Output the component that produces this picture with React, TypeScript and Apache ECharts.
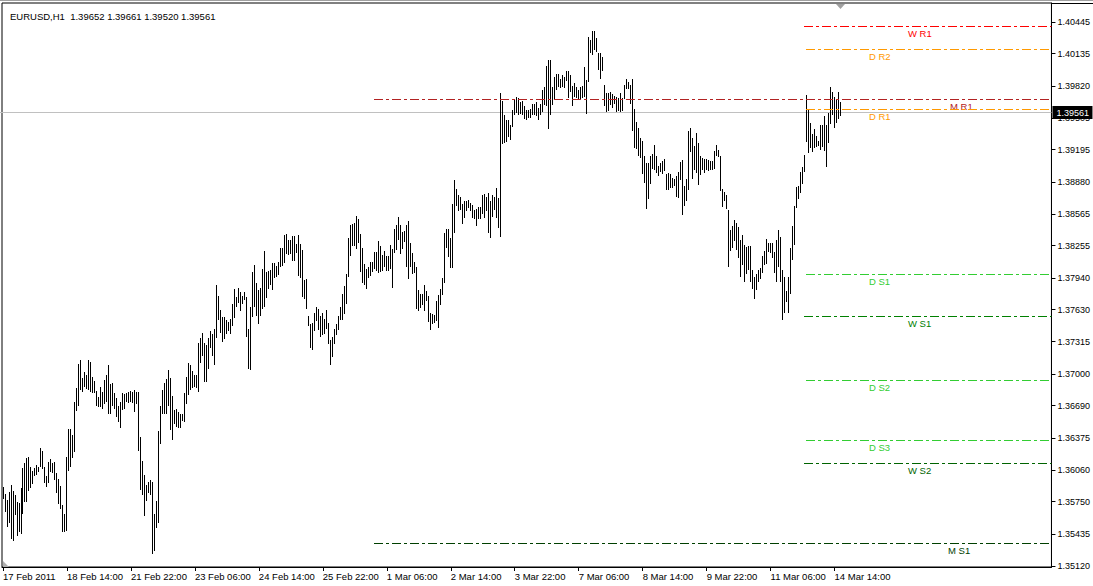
import React, { useEffect, useRef } from "react";
import * as echarts from "echarts";

const symbolTitle = "EURUSD,H1";
const lastOHLC = [1.39652, 1.39661, 1.3952, 1.39561];

const highs = [
  1.3589, 1.3582, 1.3577, 1.3584, 1.3591, 1.3585, 1.3581, 1.3575, 1.3574, 1.3588,
  1.3608, 1.3613, 1.3618, 1.3619, 1.3609, 1.3605, 1.3608, 1.3611, 1.3609, 1.3627,
  1.3625, 1.3609, 1.36, 1.3614, 1.3617, 1.3613, 1.3614, 1.3603, 1.3597, 1.359,
  1.3572, 1.3563, 1.3619, 1.3646, 1.3646, 1.364, 1.3673, 1.3686, 1.371, 1.3714,
  1.3696, 1.3702, 1.3699, 1.3714, 1.3712, 1.3697, 1.3693, 1.3683, 1.3677, 1.3687,
  1.3682, 1.3694, 1.3699, 1.3709, 1.369, 1.3691, 1.3681, 1.3676, 1.3669, 1.3673,
  1.3681, 1.368, 1.3681, 1.3682, 1.3683, 1.3682, 1.3684, 1.3682, 1.3682, 1.3638,
  1.3615, 1.3601, 1.3591, 1.3594, 1.3596, 1.3594, 1.3563, 1.3576, 1.3644, 1.3669,
  1.3684, 1.3691, 1.3695, 1.3704, 1.3696, 1.3678, 1.3665, 1.3666, 1.3663, 1.3661,
  1.3661, 1.3681, 1.3697, 1.3711, 1.3709, 1.3703, 1.3699, 1.3699, 1.373, 1.3735,
  1.374, 1.373, 1.3728, 1.3735, 1.3742, 1.3739, 1.3744, 1.3787, 1.3776, 1.3763,
  1.3756, 1.3756, 1.3753, 1.3751, 1.3754, 1.3768, 1.3783, 1.3775, 1.3784, 1.378,
  1.3776, 1.378, 1.3775, 1.3744, 1.3766, 1.38, 1.3807, 1.3789, 1.3782, 1.3784,
  1.3803, 1.382, 1.38, 1.3801, 1.3802, 1.3809, 1.3809, 1.3806, 1.381, 1.3823,
  1.3823, 1.3836, 1.3837, 1.3831, 1.3831, 1.3835, 1.3835, 1.3827, 1.3836, 1.3827,
  1.3821, 1.3792, 1.3793, 1.3757, 1.3749, 1.375, 1.376, 1.3766, 1.3764, 1.3757,
  1.376, 1.3754, 1.3763, 1.375, 1.3733, 1.3736, 1.3744, 1.3749, 1.3757, 1.3766,
  1.3778, 1.3786, 1.3798, 1.3833, 1.3846, 1.3847, 1.3848, 1.3855, 1.3852, 1.3837,
  1.3823, 1.3808, 1.3803, 1.3805, 1.381, 1.381, 1.3819, 1.3819, 1.383, 1.3825,
  1.3816, 1.382, 1.3815, 1.3815, 1.3826, 1.3822, 1.3842, 1.3846, 1.3854, 1.3846,
  1.3839, 1.384, 1.3846, 1.385, 1.3828, 1.3818, 1.381, 1.3805, 1.3782, 1.3778,
  1.3778, 1.3787, 1.3781, 1.3776, 1.376, 1.3759, 1.3758, 1.3771, 1.3777, 1.3783,
  1.3794, 1.3838, 1.3842, 1.3842, 1.3833, 1.3866, 1.389, 1.3881, 1.3875, 1.3873,
  1.3866, 1.3869, 1.3869, 1.387, 1.3867, 1.3865, 1.386, 1.3861, 1.3863, 1.3863,
  1.3875, 1.3876, 1.3873, 1.3877, 1.3869, 1.3875, 1.3873, 1.3882, 1.3872, 1.3975,
  1.3967, 1.3953, 1.3949, 1.3949, 1.3944, 1.3958, 1.3969, 1.3971, 1.397, 1.3966,
  1.3967, 1.3962, 1.3958, 1.3958, 1.3959, 1.3964, 1.3964, 1.3966, 1.396, 1.3964,
  1.3978, 1.3981, 1.4001, 1.4007, 1.4007, 1.3981, 1.3991, 1.3994, 1.3994, 1.3989,
  1.3993, 1.3991, 1.3997, 1.3997, 1.3993, 1.3982, 1.3985, 1.3981, 1.3978, 1.3981,
  1.3982, 1.4, 1.3988, 1.403, 1.4027, 1.4036, 1.4036, 1.4029, 1.4014, 1.4014,
  1.401, 1.3983, 1.3975, 1.3975, 1.3976, 1.3974, 1.3972, 1.3971, 1.397, 1.3975,
  1.397, 1.3983, 1.3989, 1.3986, 1.3983, 1.3989, 1.3959, 1.3947, 1.3941, 1.3931,
  1.3928, 1.3913, 1.3906, 1.3906, 1.3913, 1.3915, 1.3924, 1.3913, 1.3904, 1.3906,
  1.3908, 1.391, 1.3896, 1.3897, 1.3896, 1.3892, 1.3891, 1.3894, 1.3898, 1.3907,
  1.3909, 1.3884, 1.3891, 1.3938, 1.3941, 1.3931, 1.3923, 1.3936, 1.3926, 1.3913,
  1.3911, 1.391, 1.391, 1.3909, 1.3908, 1.3908, 1.3918, 1.3924, 1.3919, 1.3913,
  1.3881, 1.3878, 1.3875, 1.386, 1.3841, 1.3845, 1.3851, 1.3848, 1.3844, 1.3831,
  1.3836, 1.3826, 1.3824, 1.3825, 1.3825, 1.3802, 1.3795, 1.3798, 1.3802, 1.3804,
  1.3815, 1.382, 1.3832, 1.3828, 1.3828, 1.3828, 1.3819, 1.3831, 1.3841, 1.3834,
  1.3802, 1.3795, 1.3781, 1.3795, 1.3823, 1.3845, 1.3864, 1.3883, 1.3884, 1.3898,
  1.3903, 1.3914, 1.3973, 1.3959, 1.3946, 1.3935, 1.394, 1.3933, 1.3928, 1.3944,
  1.3944, 1.3952, 1.3944, 1.3955, 1.3981, 1.3976, 1.3971, 1.3969, 1.3976, 1.39661,
];

const lows = [
  1.3578, 1.3565, 1.355, 1.3554, 1.3538, 1.3536, 1.3562, 1.3541, 1.3545, 1.3543,
  1.3563, 1.3575, 1.3575, 1.3585, 1.3588, 1.3592, 1.36, 1.3601, 1.3604, 1.3609,
  1.3607, 1.3593, 1.3589, 1.3593, 1.3604, 1.3603, 1.3596, 1.3583, 1.3573, 1.3568,
  1.3545, 1.3545, 1.3546, 1.3605, 1.3609, 1.3618, 1.3624, 1.3664, 1.3669, 1.3684,
  1.3682, 1.3687, 1.3685, 1.3684, 1.3682, 1.3681, 1.3681, 1.3669, 1.3668, 1.3668,
  1.3666, 1.3671, 1.3673, 1.3661, 1.3661, 1.3669, 1.3666, 1.3658, 1.3653, 1.3647,
  1.3665, 1.3666, 1.3673, 1.3672, 1.3673, 1.3672, 1.3663, 1.3671, 1.3625, 1.3586,
  1.3581, 1.3561, 1.3576, 1.3583, 1.3581, 1.3524, 1.3527, 1.3549, 1.3554, 1.3631,
  1.3661, 1.3661, 1.3661, 1.3669, 1.3645, 1.3635, 1.3651, 1.3648, 1.3647, 1.3647,
  1.3654, 1.3653, 1.3671, 1.3679, 1.3684, 1.3686, 1.3687, 1.3686, 1.3682, 1.3711,
  1.3718, 1.3692, 1.3692, 1.3705, 1.3725, 1.3718, 1.3709, 1.3735, 1.3753, 1.374,
  1.3731, 1.3734, 1.3739, 1.3742, 1.3739, 1.3747, 1.3755, 1.3766, 1.3769, 1.3762,
  1.3768, 1.3772, 1.3736, 1.3705, 1.3704, 1.3756, 1.3766, 1.3757, 1.3749, 1.3757,
  1.3764, 1.3766, 1.3774, 1.3783, 1.3787, 1.3782, 1.3794, 1.3795, 1.3797, 1.3805,
  1.3806, 1.3809, 1.3817, 1.3816, 1.3817, 1.3811, 1.3811, 1.3818, 1.3796, 1.3794,
  1.3775, 1.3773, 1.3764, 1.3747, 1.3725, 1.3723, 1.3742, 1.3752, 1.3743, 1.3736,
  1.3738, 1.3739, 1.3744, 1.3729, 1.3709, 1.3717, 1.3729, 1.3738, 1.3743, 1.3753,
  1.3753, 1.3759, 1.3768, 1.3795, 1.3815, 1.3825, 1.3825, 1.3822, 1.3828, 1.38,
  1.3789, 1.3787, 1.3783, 1.3794, 1.3796, 1.38, 1.3803, 1.3801, 1.3799, 1.38,
  1.3801, 1.3805, 1.3801, 1.3801, 1.3803, 1.3784, 1.3818, 1.3821, 1.3831, 1.3817,
  1.3822, 1.3829, 1.3805, 1.3793, 1.3805, 1.3798, 1.3799, 1.3764, 1.3762, 1.3765,
  1.3767, 1.3762, 1.3771, 1.3751, 1.3743, 1.3749, 1.375, 1.3752, 1.3745, 1.3767,
  1.3777, 1.3789, 1.3823, 1.3814, 1.3804, 1.3804, 1.3838, 1.3864, 1.3859, 1.386,
  1.3847, 1.3853, 1.3859, 1.3862, 1.3859, 1.3853, 1.3852, 1.3845, 1.3852, 1.3852,
  1.3857, 1.3853, 1.3859, 1.3838, 1.3833, 1.3854, 1.386, 1.3853, 1.3843, 1.3834,
  1.3925, 1.3926, 1.3927, 1.3932, 1.3929, 1.3942, 1.3953, 1.3955, 1.3953, 1.3954,
  1.3953, 1.395, 1.3949, 1.3951, 1.3951, 1.3953, 1.3953, 1.3952, 1.3949, 1.3953,
  1.3956, 1.3963, 1.3962, 1.394, 1.3953, 1.3963, 1.3968, 1.3978, 1.3981, 1.398,
  1.3981, 1.398, 1.3987, 1.397, 1.3976, 1.3962, 1.3971, 1.397, 1.3968, 1.3968,
  1.397, 1.3971, 1.3954, 1.3986, 1.4014, 1.4012, 1.4017, 1.4015, 1.3998, 1.3989,
  1.3997, 1.3962, 1.3956, 1.3957, 1.3963, 1.396, 1.3964, 1.3956, 1.3957, 1.3956,
  1.3957, 1.3969, 1.3979, 1.3979, 1.3964, 1.3938, 1.3921, 1.392, 1.3913, 1.3911,
  1.3896, 1.3887, 1.3861, 1.3871, 1.3886, 1.3901, 1.39, 1.3897, 1.3894, 1.3898,
  1.3896, 1.3899, 1.388, 1.388, 1.3882, 1.3882, 1.3884, 1.3873, 1.3872, 1.389,
  1.3856, 1.3864, 1.3869, 1.388, 1.3917, 1.3891, 1.39, 1.3897, 1.3885, 1.3895,
  1.39, 1.3897, 1.39, 1.3899, 1.39, 1.39, 1.3901, 1.3913, 1.3912, 1.3879,
  1.3863, 1.3869, 1.3861, 1.3805, 1.382, 1.3823, 1.383, 1.3821, 1.3813, 1.3795,
  1.3807, 1.379, 1.3798, 1.3802, 1.379, 1.3783, 1.3773, 1.3782, 1.379, 1.3793,
  1.3799, 1.3807, 1.3808, 1.3819, 1.3818, 1.3813, 1.3799, 1.379, 1.3805, 1.379,
  1.3753, 1.376, 1.377, 1.376, 1.3778, 1.3812, 1.3826, 1.3862, 1.3871, 1.3877,
  1.3886, 1.3898, 1.3927, 1.3916, 1.3921, 1.3917, 1.3921, 1.3922, 1.3923, 1.3919,
  1.3922, 1.3918, 1.3903, 1.3926, 1.3945, 1.3953, 1.3941, 1.3946, 1.395, 1.3952,
];

const yTickLabels = [
  1.40445, 1.40135, 1.3982, 1.39505, 1.39195, 1.3888, 1.38565, 1.38255, 1.3794,
  1.3763, 1.37315, 1.37, 1.3669, 1.36375, 1.3606, 1.3575, 1.35435, 1.3512,
];

const xTickBars = [0, 32, 64, 96, 128, 160, 192, 224, 256, 288, 320, 352, 384, 416];
const xTickLabels = [
  "17 Feb 2011", "18 Feb 14:00", "21 Feb 22:00", "23 Feb 06:00", "24 Feb 14:00",
  "25 Feb 22:00", "1 Mar 06:00", "2 Mar 14:00", "3 Mar 22:00", "7 Mar 06:00",
  "8 Mar 14:00", "9 Mar 22:00", "11 Mar 06:00", "14 Mar 14:00",
];

// pivot levels
const pivotNames = ["W R1", "D R2", "M R1", "D R1", "D S1", "W S1", "D S2", "D S3", "W S2", "M S1"];
const pivotValues = [1.40403, 1.40178, 1.39688, 1.3959, 1.37975, 1.37564, 1.36938, 1.3635, 1.36125, 1.35342];
const pivotPeriod = ["W", "D", "M", "D", "D", "W", "D", "D", "W", "M"];
// bar index where each period starts (monthly: 1 Mar 00:00, weekly/daily: 14 Mar 00:00)
const periodStartBar = { M: 186, W: 401, D: 402 } as Record<string, number>;

// styles
const FONT = '"Liberation Sans", Arial, sans-serif';
const pivotColors = ["#FF0000", "#FF9900", "#B22222", "#FF9900", "#32CD32", "#008000", "#32CD32", "#32CD32", "#006400", "#004000"];
const labelBarPos = [452.5, 433, 473.5, 433, 433, 452.5, 433, 433, 452.5, 472.5];
const SLOTS = 525;

export default function App() {
  const ref = useRef<HTMLDivElement>(null);
  useEffect(() => {
    if (!ref.current) return;
    const chart = echarts.init(ref.current, null, { renderer: "svg" });
    const barData = highs.map((h, i) => [i, h, lows[i]]);
    const pivotData = pivotValues.map((v, k) => [periodStartBar[pivotPeriod[k]], v, labelBarPos[k]]);
    const yMax = 1.40631;
    const yMin = 1.3511;
    chart.setOption({
      animation: false,
      backgroundColor: "#FFFFFF",
      title: {
        text: `${symbolTitle}  ${lastOHLC.map((v) => v.toFixed(5)).join(" ")}`,
        left: 5,
        top: 6,
        textStyle: { fontSize: 9.5, fontWeight: "normal", color: "#000", fontFamily: FONT },
      },
      grid: {
        left: 2,
        top: 3,
        width: 1050,
        height: 564,
        show: true,
        borderColor: "#000",
        borderWidth: 1,
        backgroundColor: "transparent",
      },
      xAxis: {
        type: "value",
        min: -0.5,
        max: SLOTS - 0.5,
        splitLine: { show: false },
        axisLine: { show: true, onZero: false, lineStyle: { color: "#000", width: 1 } },
        axisTick: { show: true, customValues: xTickBars, length: 4, lineStyle: { color: "#000" } },
        axisLabel: {
          customValues: xTickBars,
          formatter: (v: number) => {
            const k = xTickBars.indexOf(Math.round(v));
            return k >= 0 ? xTickLabels[k] : "";
          },
          align: "left",
          margin: 4,
          color: "#000",
          fontSize: 9.5,
          fontFamily: FONT,
        },
      },
      yAxis: {
        type: "value",
        position: "right",
        min: yMin,
        max: yMax,
        splitLine: { show: false },
        axisLine: { show: true, onZero: false, lineStyle: { color: "#000", width: 1 } },
        axisTick: { show: true, customValues: yTickLabels, length: 4, lineStyle: { color: "#000" } },
        axisLabel: {
          customValues: yTickLabels,
          formatter: (v: number) => v.toFixed(5),
          margin: 6,
          color: "#000",
          fontSize: 9,
          fontFamily: FONT,
        },
      },
      series: [
        {
          type: "custom",
          z: 1,
          data: [[0, lastOHLC[3]]],
          encode: { x: 0, y: 1 },
          clip: false,
          renderItem: (params: any, api: any) => {
            const p = api.coord([api.value(0), api.value(1)]);
            const cs = params.coordSys;
            const y = Math.floor(p[1]) + 0.5;
            const right = cs.x + cs.width;
            return {
              type: "group",
              children: [
                {
                  type: "line",
                  shape: { x1: 0, y1: y, x2: right, y2: y },
                  style: { stroke: "#C0C0C0", lineWidth: 1 },
                },
                {
                  type: "rect",
                  z2: 10,
                  shape: { x: right + 1, y: y - 6.5, width: 40, height: 13 },
                  style: { fill: "#000" },
                },
                {
                  type: "text",
                  z2: 11,
                  x: right + 5,
                  y: y,
                  style: {
                    text: lastOHLC[3].toFixed(5),
                    fill: "#fff",
                    fontSize: 9,
                    fontFamily: FONT,
                    align: "left",
                    verticalAlign: "middle",
                  },
                },
              ],
            };
          },
        },
        {
          type: "custom",
          z: 3,
          data: barData,
          encode: { x: 0, y: [1, 2] },
          renderItem: (params: any, api: any) => {
            const i = api.value(0);
            const pTop = api.coord([i, api.value(1)]);
            const pBot = api.coord([i, api.value(2)]);
            const x = Math.floor(pTop[0] + 0.01);
            const y1 = Math.round(pTop[1]);
            const y2 = Math.round(pBot[1]);
            return {
              type: "rect",
              shape: { x, y: y1, width: 1, height: Math.max(1, y2 - y1) },
              style: { fill: "#000" },
            };
          },
        },
        {
          type: "custom",
          z: 5,
          data: pivotData,
          encode: { x: 0, y: 1 },
          renderItem: (params: any, api: any) => {
            const k = params.dataIndex;
            const v = api.value(1);
            const p = api.coord([api.value(0), v]);
            const q = api.coord([api.value(2), v]);
            const cs = params.coordSys;
            const y = Math.floor(p[1]) + 0.5;
            const color = pivotColors[k];
            return {
              type: "group",
              children: [
                {
                  type: "line",
                  shape: { x1: Math.floor(p[0]), y1: y, x2: cs.x + cs.width, y2: y },
                  style: { stroke: color, lineWidth: 1, lineDash: [9, 3, 3, 3] },
                },
                {
                  type: "text",
                  x: Math.round(q[0]),
                  y: y + 7,
                  style: {
                    text: pivotNames[k],
                    fill: color,
                    fontSize: 9.5,
                    fontFamily: FONT,
                    align: "left",
                    verticalAlign: "middle",
                  },
                },
              ],
            };
          },
        },
      ],
      graphic: [
        {
          type: "line",
          shape: { x1: 1052, y1: 3.5, x2: 1093, y2: 3.5 },
          style: { stroke: "#000", lineWidth: 1 },
        },
        {
          type: "line",
          shape: { x1: 0, y1: 0.5, x2: 1093, y2: 0.5 },
          style: { stroke: "#A0A0A0", lineWidth: 1 },
        },
        {
          type: "polygon",
          shape: { points: [[836, 4], [845, 4], [840.5, 9]] },
          style: { fill: "#A0A0A0" },
        },
        {
          type: "polygon",
          shape: { points: [[3, 561], [3, 567], [9, 567]] },
          style: { fill: "#B0B0B0" },
        },
      ],
    });
    return () => chart.dispose();
  }, []);
  return (
    <div
      ref={ref}
      style={{ position: "fixed", left: 0, top: 0, width: 1093, height: 586, background: "#fff" }}
    />
  );
}
